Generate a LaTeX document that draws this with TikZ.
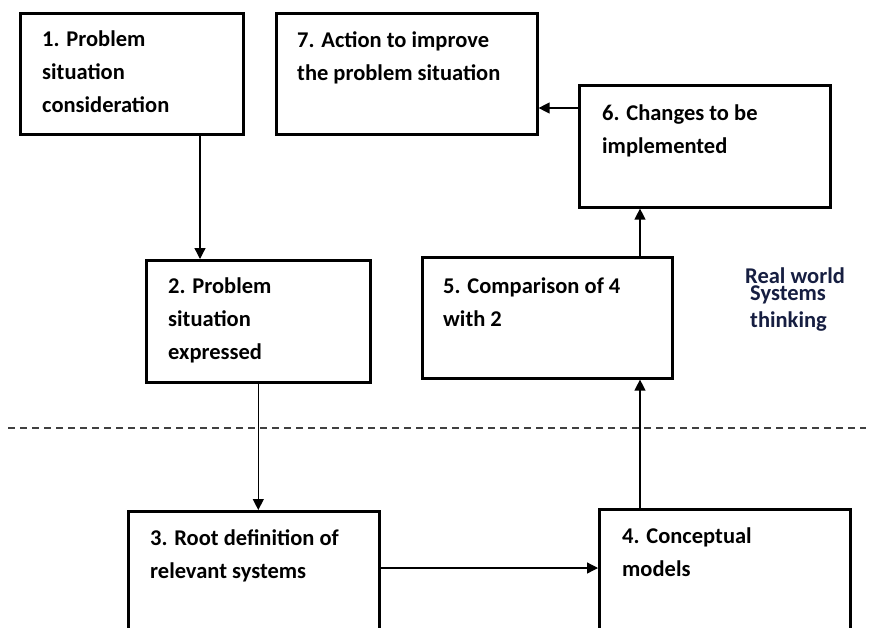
\documentclass[tikz,border=0pt]{standalone}
\usepackage{fontspec}
\setmainfont{Carlito}
\usetikzlibrary{arrows.meta,calc}
\definecolor{navytxt}{RGB}{22,30,65}
\newcommand{\firstlinestrut}{\rule{0pt}{20pt}}
\begin{document}
\begin{tikzpicture}[x=1pt,y=-1pt,
  boxstyle/.style={draw=black,line width=2.6pt,rectangle,inner sep=0pt,anchor=north west},
  boxtext/.style={anchor=north west,inner sep=0pt,align=left,
    font=\bfseries\fontsize{22.5}{33}\selectfont},
  conn/.style={line width=1.3pt,draw=black},
  arr/.style={conn,-{Triangle[length=11pt,width=11pt]}},
  sidetext/.style={anchor=base west,inner sep=0pt,text=navytxt,font=\bfseries\fontsize{22.5}{24}\selectfont}
]
\clip (0,0) rectangle (870,627);
\fill[white] (0,0) rectangle (870,627);

% boxes
\node[boxstyle,minimum width=223pt,minimum height=121pt] (b1) at (19,12) {};
\node[boxstyle,minimum width=261pt,minimum height=121pt] (b7) at (275,12) {};
\node[boxstyle,minimum width=251pt,minimum height=122pt] (b6) at (578,84) {};
\node[boxstyle,minimum width=224pt,minimum height=122pt] (b2) at (145,259) {};
\node[boxstyle,minimum width=250pt,minimum height=121pt] (b5) at (421,256) {};
\node[boxstyle,minimum width=251pt,minimum height=140pt] (b3) at (127,510) {};
\node[boxstyle,minimum width=251pt,minimum height=142pt] (b4) at (598,508) {};

% box texts (first baseline 20pt below the node top)
\node[boxtext] (t1) at ($(b1.north west)+(23,14)$) {\firstlinestrut 1. Problem\\situation\\consideration};
\node[boxtext] (t7) at ($(b7.north west)+(22,15)$) {\firstlinestrut 7. Action to improve\\the problem situation};
\node[boxtext] (t6) at ($(b6.north west)+(24,16)$) {\firstlinestrut 6. Changes to be\\implemented};
\node[boxtext] (t2) at ($(b2.north west)+(23,14)$) {\firstlinestrut 2. Problem\\situation\\expressed};
\node[boxtext] (t5) at ($(b5.north west)+(22,17)$) {\firstlinestrut 5. Comparison of 4\\with 2};
\node[boxtext] (t3) at ($(b3.north west)+(23,15)$) {\firstlinestrut 3. Root definition of\\relevant systems};
\node[boxtext] (t4) at ($(b4.north west)+(24,15)$) {\firstlinestrut 4. Conceptual\\models};

% side labels
\node[sidetext] (rw) at (745,283) {Real world};
\node[sidetext] (st) at (750,300) {Systems};
\node[sidetext] (th) at (750,327) {thinking};

% divider
\coordinate (dl) at (8,428);
\coordinate (dr) at (866,428);
\draw[line width=1.5pt,draw=black!75,dash pattern=on 7pt off 5pt] (dl) -- (dr);

% connector guides
\coordinate (x12) at (200,0);
\coordinate (x45) at (640,0);
\coordinate (y34) at (0,568);
\coordinate (y67) at (0,108);

% connectors
\draw[arr] (b1.south -| x12) -- (b2.north -| x12);
\draw[arr] (b2.south) -- (b2.south |- b3.north);
\draw[arr] (b3.east |- y34) -- (b4.west |- y34);
\draw[arr] (b4.north -| x45) -- (b5.south -| x45);
\draw[arr] (b5.north -| x45) -- (b6.south -| x45);
\draw[arr] (b6.west |- y67) -- (b7.east |- y67);
\end{tikzpicture}
\end{document}
